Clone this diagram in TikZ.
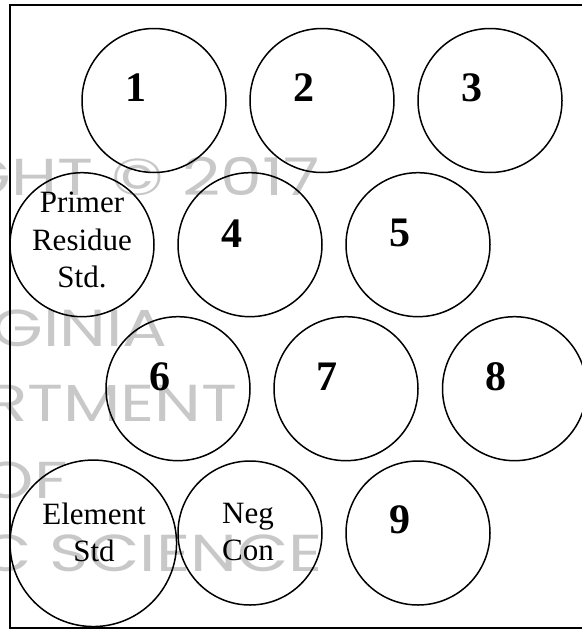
\documentclass[tikz,border=0pt]{standalone}
\usepackage{fontspec}
\setmainfont{Liberation Serif}
\newfontfamily\wmfont{Poppins}
\definecolor{wmgray}{RGB}{200,200,200}
\newcommand{\wmtext}[1]{\scalebox{1.28}[1]{#1}}
\begin{document}
\begin{tikzpicture}[x=1pt,y=-1pt,
  well/.style={circle,draw=black,line width=1.5pt,minimum size=144pt,inner sep=0pt},
  bigwell/.style={well,minimum size=166.5pt},
  num/.style={font=\fontsize{42}{50}\selectfont\bfseries,inner sep=0pt},
  lbl/.style={font=\fontsize{31}{37.5}\selectfont,align=center,inner sep=0pt},
  wm/.style={font=\wmfont\fontsize{52}{60}\selectfont,text=wmgray,inner sep=0pt,anchor=base east}]
\useasboundingbox (0,0) rectangle (581,629);
% watermark
\node[wm] (w1) at (320,195) {\wmtext{GHT © 2017}};
\node[wm] (w2) at (168,346.7) {\wmtext{GINIA}};
\node[wm] (w3) at (238,421.7) {\wmtext{RTMENT}};
\node[wm] (w4) at (68,498) {\wmtext{OF}};
\node[wm] (w5) at (323,571.7) {\wmtext{C SCIENCE}};
% frame
\draw[line width=2pt] (600,4.7) -- (10,4.7) -- (10,627.7) -- (600,627.7);
% wells
\node[well] (c1) at (154,100.5) {};
\node[well] (c2) at (322,100.5) {};
\node[well] (c3) at (490,100.5) {};
\node[well] (cp) at (82,244.7) {};
\node[well] (c4) at (250,244.7) {};
\node[well] (c5) at (418,244.7) {};
\node[well] (c6) at (178,388.7) {};
\node[well] (c7) at (346,388.7) {};
\node[well] (c8) at (514.5,388.7) {};
\node[bigwell] (ce) at (93.3,543.3) {};
\node[well] (cn) at (250,533) {};
\node[well] (c9) at (418,533) {};
% labels
\node[num] (l1) at ([shift={(-18,-13)}]c1.center) {1};
\node[num] (l2) at ([shift={(-18,-13)}]c2.center) {2};
\node[num] (l3) at ([shift={(-18,-13)}]c3.center) {3};
\node[num] (l4) at ([shift={(-18,-11)}]c4.center) {4};
\node[num] (l5) at ([shift={(-18,-12)}]c5.center) {5};
\node[num] (l6) at ([shift={(-18,-12)}]c6.center) {6};
\node[num] (l7) at ([shift={(-19,-12)}]c7.center) {7};
\node[num] (l8) at ([shift={(-19,-12)}]c8.center) {8};
\node[num] (l9) at ([shift={(-18,-13)}]c9.center) {9};
\node[lbl] (lp) at (82,240) {Primer\\Residue\\Std.};
\node[lbl] (le) at (94,532.5) {Element\\Std};
\node[lbl] (ln) at (248,532) {Neg\\Con};
\end{tikzpicture}
\end{document}
